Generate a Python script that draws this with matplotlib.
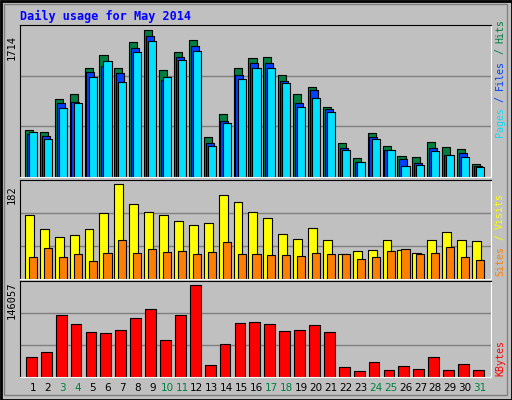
import matplotlib
matplotlib.use("Agg")
import matplotlib.pyplot as plt
import numpy as np
from matplotlib.patches import Rectangle

days = list(range(1, 32))
hits = [550,527,911,969,1271,1422,1271,1574,1714,1248,1457,1597,469,736,1271,1388,1399,1190,969,1050,818,399,225,516,364,248,236,411,353,329,155]
files = [504,480,864,876,1225,1294,1209,1496,1643,1132,1400,1523,399,655,1186,1326,1326,1116,864,1015,795,341,178,469,318,213,167,341,260,283,132]
pages = [527,445,806,864,1163,1349,1109,1457,1585,1163,1364,1469,364,631,1140,1271,1271,1097,814,919,760,318,178,445,318,132,143,306,260,237,120]
visits = [122,95,81,85,95,127,182,143,129,122,111,103,107,160,148,129,117,87,77,97,75,48,54,56,74,56,50,74,90,74,72]
sites = [42,60,42,48,34,50,74,50,58,52,54,48,52,70,48,48,46,46,44,50,48,48,38,42,54,58,48,50,62,42,36]
kbytes = [30917,38913,98076,83685,70893,69294,74091,93279,107670,58110,98076,146057,19723,51714,85284,86883,83685,72492,74091,82086,70893,16525,10129,24520,11728,17591,13326,30917,11728,21322,11728]
weekend = {3,4,10,11,17,18,24,25,31}

BG = "#C0C0C0"
fig = plt.figure(figsize=(5.12, 4.0), dpi=100, facecolor=BG)
W, H = 512, 400
X0, X1 = 20, 491
step = 14.9
xl = (1 - (33 - X0)/step, 31 + (X1 - 480)/step)

def ax_px(x0, y0, x1, y1):
    return fig.add_axes([x0/W, 1-y1/H, (x1-x0)/W, (y1-y0)/H])

mono = "DejaVu Sans Mono"
fig.text(20/W, 1-16/H, "Daily usage for May 2014", color="#0000FF", fontsize=8.5,
         fontweight="bold", family=mono, va="center")

def setup(ax, ymax):
    ax.set_facecolor(BG)
    ax.set_xlim(*xl)
    ax.set_ylim(0, ymax)
    ax.set_xticks([]); ax.set_yticks([])
    for s in ("left", "top"):
        ax.spines[s].set_color("black")
    for s in ("right", "bottom"):
        ax.spines[s].set_color("white")
    for g in (ymax/3, 2*ymax/3):
        ax.axhline(g, color="#808080", lw=1, zorder=0)

x = np.array(days, dtype=float)
kw = dict(align="edge", edgecolor="black", linewidth=0.8)

ax1 = ax_px(X0, 25, X1, 177)
m1 = 1714 / 0.97
setup(ax1, m1)
ax1.bar(x-0.54, hits, width=0.54, color="#008040", **kw)
ax1.bar(x-0.42, files, width=0.54, color="#0040FF", **kw)
ax1.bar(x-0.27, pages, width=0.54, color="#00E0FF", **kw)
fig.text(12/W, 1-48/H, "1714", rotation=90, fontsize=7.5, family=mono, ha="center", va="center")

ax2 = ax_px(X0, 180, X1, 279)
m2 = 182 / 0.96
setup(ax2, m2)
ax2.bar(x-0.54, visits, width=0.6, color="#FFFF00", **kw)
ax2.bar(x-0.27, sites, width=0.54, color="#FF8000", **kw)
fig.text(12/W, 1-195/H, "182", rotation=90, fontsize=7.5, family=mono, ha="center", va="center")

ax3 = ax_px(X0, 281, X1, 377)
m3 = 146057 / 0.96
setup(ax3, m3)
ax3.bar(x-0.47, kbytes, width=0.72, color="#FF0000", **kw)
fig.text(12/W, 1-300/H, "146057", rotation=90, fontsize=7.5, family=mono, ha="center", va="center")

for d in days:
    xp = 33 + (d-1)*step
    fig.text(xp/W, 1-388/H, str(d), fontsize=7.5, ha="center", va="center",
             color="#008040" if d in weekend else "black")

def vlabel(parts, ybottom):
    y = ybottom
    for txt, col in parts:
        fig.text(500/W, 1-y/H, txt, rotation=90, fontsize=7.2, family=mono,
                 color=col, ha="center", va="bottom")
        y -= len(txt)*5.9
vlabel([("Pages", "#00E0FF"), (" / ", "#0040FF"), ("Files", "#0040FF"), (" / ", "#008040"), ("Hits", "#008040")], 137)
vlabel([("Sites", "#FF8000"), (" / ", "#FFFF00"), ("Visits", "#FFFF00")], 276)
vlabel([("KBytes", "#FF0000")], 376)

fig.patches.append(Rectangle((0.5/W, 0.5/H), 1-1/W, 1-1/H, transform=fig.transFigure,
                             fill=False, edgecolor="black", lw=2))
fig.patches.append(Rectangle((4/W, 5/H), 1-9/W, 1-9/H, transform=fig.transFigure,
                             fill=False, edgecolor="#808080", lw=1))

fig.savefig("out.png", dpi=100, facecolor=BG)
